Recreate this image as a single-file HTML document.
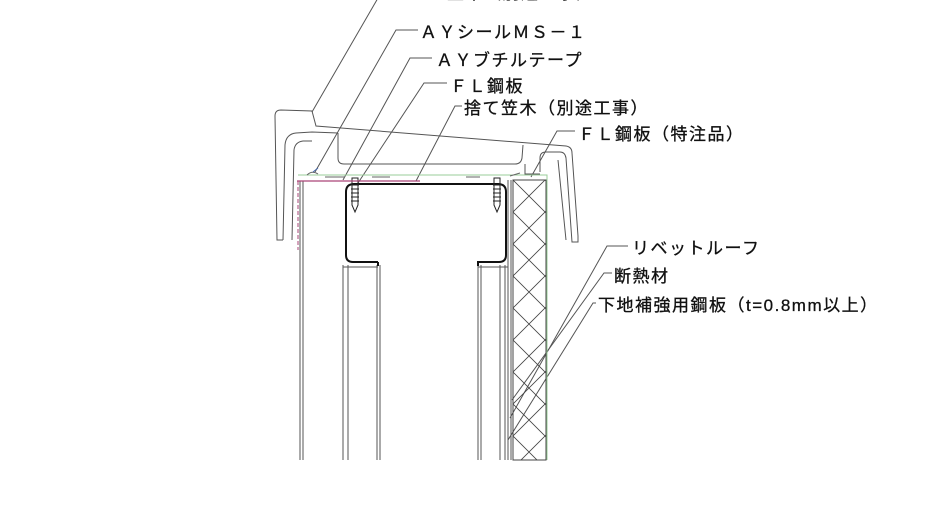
<!DOCTYPE html>
<html><head><meta charset="utf-8"><style>
html,body{margin:0;padding:0;background:#fff;}
svg{display:block}
text{font-family:"Liberation Sans","Noto Sans CJK JP",sans-serif;font-size:17px;fill:#111;letter-spacing:1.5px;stroke:#111;stroke-width:0.3px}
</style></head><body>
<svg width="928" height="522" viewBox="0 0 928 522" xmlns="http://www.w3.org/2000/svg">
<defs>
<pattern id="hx" x="513" y="180" width="32" height="32" patternUnits="userSpaceOnUse">
<path d="M0 0L32 32M32 0L0 32" stroke="#444" stroke-width="0.8" fill="none"/>
</pattern>
</defs>
<g fill="none" stroke="#555" stroke-width="1">
<path d="M378 -2L312 112"/>
<path d="M418 30H396L315 172"/>
<path d="M432 58H410L343 180"/>
<path d="M447 83H424L358 183"/>
<path d="M462 106H455L416 181"/>
<path d="M575 131H557L531 177"/>
<path d="M628 246H607L510 418"/>
<path d="M612 273H604L512 400"/>
<path d="M596 303H593L508 440"/>
<path d="M283 240L277 240L275 116Q275 110 281 110L312 111L316 126L566 146Q572 147 572 153L578 236L578 242L572 242L566 158Q565 152 560 152"/>
<path d="M283 240L285 145Q286 134 296 133L312 132L338 133"/>
<path d="M292 240L294 150Q295 142 303 141L312 141"/>
<path d="M338 133L338 158Q338 164 344 164L515 164Q521 164 522 158L523 145"/>
<path d="M560 152L546 152Q540 152 540 158L540 172"/>
<path d="M566 240L558 160"/>
<path d="M525 164L525 174L540 174"/>
<path d="M300 181V460M303 181V460"/>
<path d="M343 265V460M348 265V460M377 265V460M380 265V460"/>
<path d="M478 265V460M481 265V460M500 265V460M505 265V460"/>
<path d="M508 180V460M511 180V460"/>
<rect x="513" y="180" width="33" height="280" fill="url(#hx)" stroke="#444"/>
<path d="M378 262H353Q346 262 346 255V192Q346 184 354 184H498Q506 184 506 192V255Q506 262 499 262H478V266M378 262V266" stroke="#111" stroke-width="2"/>
<path d="M378 267H343M478 267H508"/>
<path d="M352 178V205L355 212L358 205V178Z M494 178V205L497 212L500 205V178Z" stroke="#222"/>
<path d="M351 185H359M351 189H359M351 193H359M351 197H359M351 201H359M493 185H501M493 189H501M493 193H501M493 197H501M493 201H501" stroke="#222"/>
<path d="M298 175H547V460" stroke="#9c9" />
<path d="M297 181H420" stroke="#a47" stroke-width="1.3"/>
<path d="M298 181V250" stroke="#a47" stroke-dasharray="4 2"/>
<path d="M307 175Q312 170 318 174M325 177H345M372 177H390M466 177H480M510 176L520 173" stroke="#666"/>
<path d="M313 172L318 168" stroke="#46a"/>
</g>
<text x="410" y="-1">ＡＹ笠木（別途工事）</text>
<text x="420" y="38">ＡＹシールＭＳ－１</text>
<text x="436" y="66">ＡＹブチルテープ</text>
<text x="450" y="92">ＦＬ鋼板</text>
<text x="464" y="114">捨て笠木（別途工事）</text>
<text x="578" y="140">ＦＬ鋼板（特注品）</text>
<text x="632" y="254">リベットルーフ</text>
<text x="614" y="282">断熱材</text>
<text x="598" y="311">下地補強用鋼板（t=0.8mm以上）</text>
</svg>
</body></html>
